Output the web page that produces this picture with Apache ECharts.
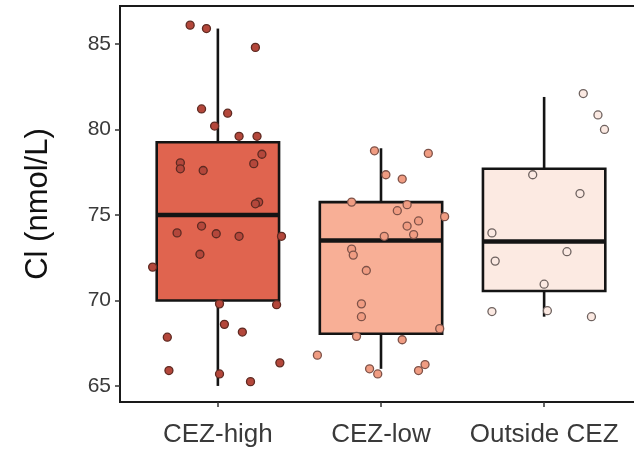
<!DOCTYPE html>
<html lang="en">
<head>
  <meta charset="UTF-8">
  <title>Cl by zone</title>
  <script src="https://cdn.jsdelivr.net/npm/echarts@6/dist/echarts.min.js"></script>
  <style>
    * {
      margin: 0;
      padding: 0
    }

    html, body {
      width: 100%;
      height: 100%;
      background: #fff;
    }

    #main {
      width: 634px;
      height: 451px;
    }
  </style>
</head>
<body>
  <div id="main"></div>
</body>
<script type="text/javascript">
  // categories and tick labels
  var groups = ['CEZ-high', 'CEZ-low', 'Outside CEZ'];
  var yTicks = [65, 70, 75, 80, 85];

  // box stats: [lower whisker, Q1, median, Q3, upper whisker]
  var highBox = [65.0, 70.0, 75.0, 79.25, 85.9];
  var lowBox = [66.0, 68.05, 73.5, 75.75, 78.9];
  var outBox = [69.05, 70.55, 73.45, 77.7, 81.9];

  // jittered points: values and horizontal offset from the category centre
  var highVals = [86.1, 85.9, 84.8, 81.2, 80.95, 80.2, 79.6, 79.6, 78.55, 78.05, 77.7, 77.6, 78.0, 75.75, 75.65,
    74.35, 73.95, 73.9, 73.75, 73.75, 72.7, 71.95, 69.8, 69.75, 68.6, 68.15, 67.85, 65.9, 66.35, 65.7, 65.25];
  var highJit = [-0.17, -0.07, 0.23, -0.10, 0.06, -0.02, 0.13, 0.24, 0.27, -0.23, -0.23, -0.09, 0.22, 0.25, 0.23,
    -0.10, -0.25, -0.01, 0.13, 0.39, -0.11, -0.40, 0.01, 0.36, 0.04, 0.15, -0.31, -0.30, 0.38, 0.01, 0.20];

  var lowVals = [78.75, 78.6, 77.35, 77.1, 75.75, 75.6, 75.25, 74.65, 74.9, 74.35, 73.75, 73.85, 73.0, 72.65,
    71.75, 69.8, 69.05, 67.9, 68.35, 67.7, 66.8, 66.0, 65.7, 65.9, 66.25];
  var lowJit = [-0.04, 0.29, 0.03, 0.13, -0.18, 0.16, 0.10, 0.23, 0.39, 0.16, 0.02, 0.20, -0.18, -0.17,
    -0.09, -0.12, -0.12, -0.15, 0.36, 0.13, -0.39, -0.07, -0.02, 0.23, 0.27];

  var outVals = [82.1, 80.85, 80.0, 77.35, 76.25, 73.95, 72.3, 72.85, 70.95, 69.35, 69.4, 69.05];
  var outJit = [0.24, 0.33, 0.37, -0.07, 0.22, -0.32, -0.30, 0.14, 0.00, -0.32, 0.02, 0.29];

  var boxFill = ['#E0644F', '#F8AF96', '#FCEAE2'];
  var dotFill = ['#B4473B', '#F09C82', '#FBE9E2'];
  var dotEdge = ['#5E2A22', '#7E5248', '#6E625F'];

  function points(idx, vals, jit) {
    var out = [];
    for (var i = 0; i < vals.length; i++) {
      out.push([idx + 1 + jit[i], vals[i]]);
    }
    return out;
  }

  function renderBox(params, api) {
    var x = api.value(0);
    var half = 0.375;
    var lo = api.value(1), q1 = api.value(2), med = api.value(3), q3 = api.value(4), hi = api.value(5);
    var tl = api.coord([x - half, q3]);
    var br = api.coord([x + half, q1]);
    var top = api.coord([x, hi]);
    var bot = api.coord([x, lo]);
    var mid = api.coord([x, med]);
    var ink = '#141414';
    return {
      type: 'group',
      children: [
        {type: 'line', shape: {x1: top[0], y1: top[1], x2: top[0], y2: tl[1]}, style: {stroke: ink, lineWidth: 2.6}},
        {type: 'line', shape: {x1: bot[0], y1: br[1], x2: bot[0], y2: bot[1]}, style: {stroke: ink, lineWidth: 2.6}},
        {
          type: 'rect',
          shape: {x: tl[0], y: tl[1], width: br[0] - tl[0], height: br[1] - tl[1]},
          style: {fill: boxFill[params.dataIndex], stroke: ink, lineWidth: 2.6}
        },
        {type: 'line', shape: {x1: tl[0], y1: mid[1], x2: br[0], y2: mid[1]}, style: {stroke: ink, lineWidth: 4.5}}
      ]
    };
  }

  var scatterSeries = [
    points(0, highVals, highJit),
    points(1, lowVals, lowJit),
    points(2, outVals, outJit)
  ].map(function (d, i) {
    return {
      type: 'scatter',
      data: d,
      symbolSize: 8,
      itemStyle: {color: dotFill[i], borderColor: dotEdge[i], borderWidth: 1.3, opacity: 1},
      z: 5
    };
  });

  var chart = echarts.init(document.getElementById('main'));
  chart.setOption({
    animation: false,
    grid: {
      left: 120,
      top: 6,
      width: 522,
      height: 396,
      outerBoundsMode: 'none',
      containLabel: false,
      show: true,
      borderColor: '#1a1a1a',
      borderWidth: 2,
      backgroundColor: '#fff'
    },
    xAxis: {
      type: 'value',
      min: 0.4,
      max: 3.6,
      axisLine: {show: false},
      splitLine: {show: false},
      axisTick: {show: true, length: 5, customValues: [1, 2, 3], lineStyle: {color: '#333', width: 1.5}},
      axisLabel: {
        customValues: [1, 2, 3],
        formatter: function (v) {
          return groups[Math.round(v) - 1];
        },
        margin: 20,
        color: '#3a3a3a',
        fontSize: 26,
        fontFamily: 'Liberation Sans'
      }
    },
    yAxis: {
      type: 'value',
      min: 64.06,
      max: 87.22,
      name: 'Cl (nmol/L)',
      nameLocation: 'middle',
      nameGap: 66,
      nameTextStyle: {fontSize: 31, color: '#111', fontFamily: 'Liberation Sans'},
      axisLine: {show: false},
      splitLine: {show: false},
      axisTick: {show: true, length: 5, customValues: yTicks, lineStyle: {color: '#333', width: 1.5}},
      axisLabel: {
        customValues: yTicks,
        margin: 9,
        color: '#3a3a3a',
        fontSize: 21,
        fontFamily: 'Liberation Sans'
      }
    },
    series: [{
      type: 'custom',
      renderItem: renderBox,
      data: [[1].concat(highBox), [2].concat(lowBox), [3].concat(outBox)],
      encode: {x: 0, y: [1, 2, 3, 4, 5]},
      z: 2
    }].concat(scatterSeries)
  });
</script>
</html>
